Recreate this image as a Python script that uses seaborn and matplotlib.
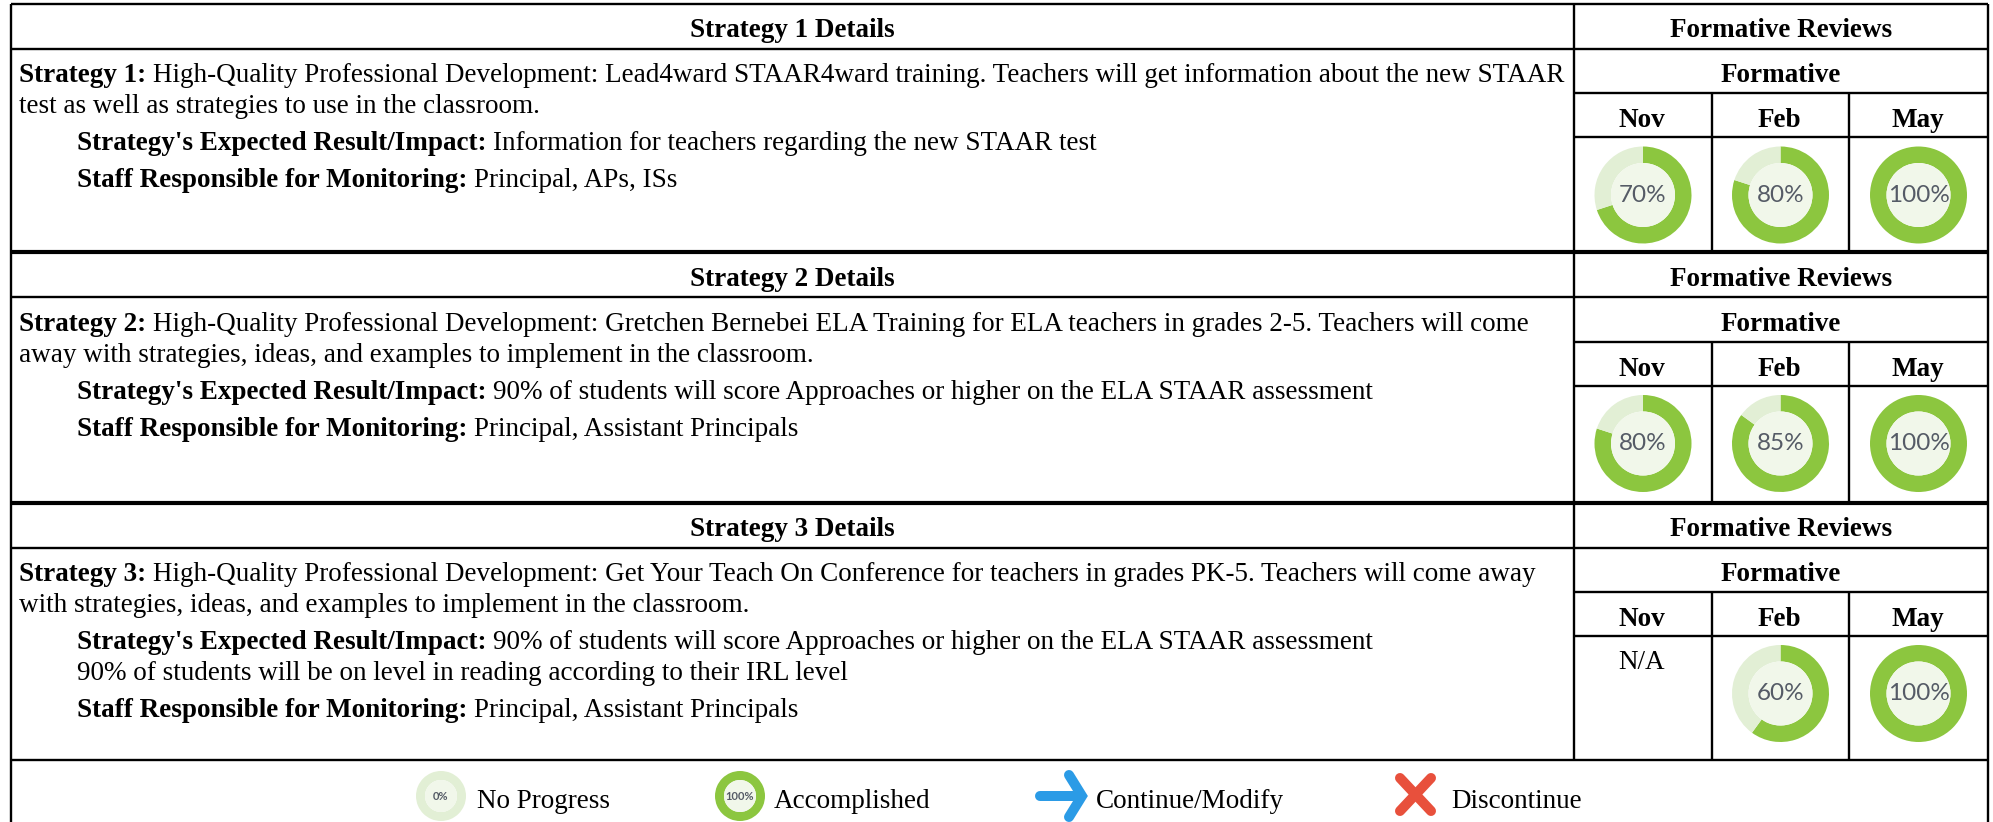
import matplotlib
matplotlib.use("Agg")
import matplotlib.pyplot as plt
import seaborn as sns

# ---- data ----
months = ["Nov", "Feb", "May"]
strategy_titles = ["Strategy 1 Details", "Strategy 2 Details", "Strategy 3 Details"]
strategy_bold = ["Strategy 1:", "Strategy 2:", "Strategy 3:"]
strategy_line1 = [
    "High-Quality Professional Development: Lead4ward STAAR4ward training. Teachers will get information about the new STAAR",
    "High-Quality Professional Development: Gretchen Bernebei ELA Training for ELA teachers in grades 2-5. Teachers will come",
    "High-Quality Professional Development: Get Your Teach On Conference for teachers in grades PK-5. Teachers will come away",
]
strategy_line2 = [
    "test as well as strategies to use in the classroom.",
    "away with strategies, ideas, and examples to implement in the classroom.",
    "with strategies, ideas, and examples to implement in the classroom.",
]
expected_result = [
    ["Information for teachers regarding the new STAAR test"],
    ["90% of students will score Approaches or higher on the ELA STAAR assessment"],
    ["90% of students will score Approaches or higher on the ELA STAAR assessment",
     "90% of students will be on level in reading according to their IRL level"],
]
staff = ["Principal, APs, ISs", "Principal, Assistant Principals", "Principal, Assistant Principals"]
reviews = [[70, 80, 100], [80, 85, 100], [None, 60, 100]]
legend_labels = ["No Progress", "Accomplished", "Continue/Modify", "Discontinue"]

# ---- layout (pixels of the 1993x822 picture) ----
W, H = 1993, 822
LEFT, SPLIT, RIGHT = 11, 1574, 1988
COLS = [1574, 1712, 1849, 1988]
BLOCK_TOP = [4.5, 253, 503]
BLOCK_BOTTOM = [253, 503, 760]
ROW_OFF = [44.5, 89, 133]
DONUT_OFF = 190.5
FS = 19.57
SERIF = "Liberation Serif"

GREEN, PALE, INNER, BLUE, RED = sns.color_palette(
    ["#8cc63f", "#e2efd5", "#f1f7ea", "#2b9be6", "#e8503c"])

sns.set_theme(style="white", rc={"font.family": [SERIF, "DejaVu Sans"], "text.color": "black"})

fig, ax = plt.subplots(figsize=(W / 100, H / 100), dpi=100)
fig.subplots_adjust(0, 0, 1, 1)
ax.set_xlim(0, W)
ax.set_ylim(H, 0)
ax.axis("off")


def hline(y, x0, x1, lw=1.7):
    ax.plot([x0, x1], [y, y], color="black", lw=lw, solid_capstyle="butt", zorder=5)


def vline(x, y0, y1, lw=1.7):
    ax.plot([x, x], [y0, y1], color="black", lw=lw, solid_capstyle="butt", zorder=5)


def runs(x, y, bold, plain, gap=6.5):
    t = ax.text(x, y, bold, fontsize=FS, fontweight="bold", family=SERIF, va="baseline", color="black")
    ext = t.get_window_extent(fig.canvas.get_renderer())
    ax.text(ext.x1 + gap, y, plain, fontsize=FS, family=SERIF, va="baseline", color="black")


def donut(x, y, value, r=48.5, inner=32, size=17.5, weight="normal"):
    ax.pie([value, 100 - value], colors=[GREEN, PALE], radius=r, center=(x, y),
           startangle=-90, counterclock=True, frame=True,
           wedgeprops=dict(width=r - inner, linewidth=0))
    ax.pie([1], colors=[INNER], radius=inner, center=(x, y), frame=True,
           wedgeprops=dict(linewidth=0))
    ax.text(x, y, f"{value}%", fontsize=size, family="Lato", color="#555b66",
            fontweight=weight, ha="center", va="center", zorder=6)


for i, top in enumerate(BLOCK_TOP):
    bottom = BLOCK_BOTTOM[i]
    ax.text((LEFT + SPLIT) / 2, top + 32.5, strategy_titles[i], fontsize=FS, fontweight="bold",
            ha="center", va="baseline", family=SERIF)
    ax.text((SPLIT + RIGHT) / 2, top + 32.5, "Formative Reviews", fontsize=FS, fontweight="bold",
            ha="center", va="baseline", family=SERIF)
    ax.text((SPLIT + RIGHT) / 2, top + 77.5, "Formative", fontsize=FS, fontweight="bold",
            ha="center", va="baseline", family=SERIF)

    runs(19, top + 77.5, strategy_bold[i], strategy_line1[i])
    ax.text(19, top + 108.5, strategy_line2[i], fontsize=FS, family=SERIF, va="baseline")
    y = top + 145.5
    runs(77, y, "Strategy's Expected Result/Impact:", expected_result[i][0])
    for extra in expected_result[i][1:]:
        y += 31
        ax.text(77, y, extra, fontsize=FS, family=SERIF, va="baseline")
    runs(77, y + 37, "Staff Responsible for Monitoring:", staff[i])

    hline(top + ROW_OFF[0], LEFT, RIGHT)
    hline(top + ROW_OFF[1], SPLIT, RIGHT)
    hline(top + ROW_OFF[2], SPLIT, RIGHT)
    for c in COLS[1:3]:
        vline(c, top + ROW_OFF[1], bottom)

    cy = top + DONUT_OFF
    for j, m in enumerate(months):
        cx = (COLS[j] + COLS[j + 1]) / 2
        ax.text(cx - 1, top + 122.5, m, fontsize=FS, fontweight="bold", ha="center",
                va="baseline", family=SERIF)
        v = reviews[i][j]
        if v is None:
            ax.text(cx - 1, top + 166, "N/A", fontsize=FS, ha="center", va="baseline", family=SERIF)
        else:
            donut(cx, cy, v)

# ---- grid frame ----
hline(4.5, LEFT, RIGHT)
hline(252.5, LEFT, RIGHT, lw=3)
hline(502.5, LEFT, RIGHT, lw=3)
hline(760, LEFT, RIGHT)
vline(LEFT, 3.8, H)
vline(RIGHT, 3.8, H)
vline(SPLIT, 4, 760)

# ---- legend row ----
LEG_Y, LEG_BASE = 796, 808
donut(441, LEG_Y, 0, r=25, inner=16, size=8, weight="bold")
ax.text(477, LEG_BASE, legend_labels[0], fontsize=FS, family=SERIF, va="baseline")
donut(740, LEG_Y, 100, r=25, inner=16, size=8, weight="bold")
ax.text(774, LEG_BASE, legend_labels[1], fontsize=FS, family=SERIF, va="baseline")
ax.plot([1040, 1081], [LEG_Y, LEG_Y], color=BLUE, lw=7.2, solid_capstyle="round")
ax.plot([1069, 1082, 1069], [775, LEG_Y, 817], color=BLUE, lw=7.2,
        solid_capstyle="round", solid_joinstyle="miter")
ax.text(1096, LEG_BASE, legend_labels[2], fontsize=FS, family=SERIF, va="baseline")
ax.plot([1400, 1431], [778, 811], color=RED, lw=7.2, solid_capstyle="round")
ax.plot([1431, 1400], [778, 811], color=RED, lw=7.2, solid_capstyle="round")
ax.text(1451, LEG_BASE, legend_labels[3], fontsize=FS, family=SERIF, va="baseline")

ax.set_xlim(0, W)
ax.set_ylim(H, 0)
fig.savefig("out.png", dpi=100)
